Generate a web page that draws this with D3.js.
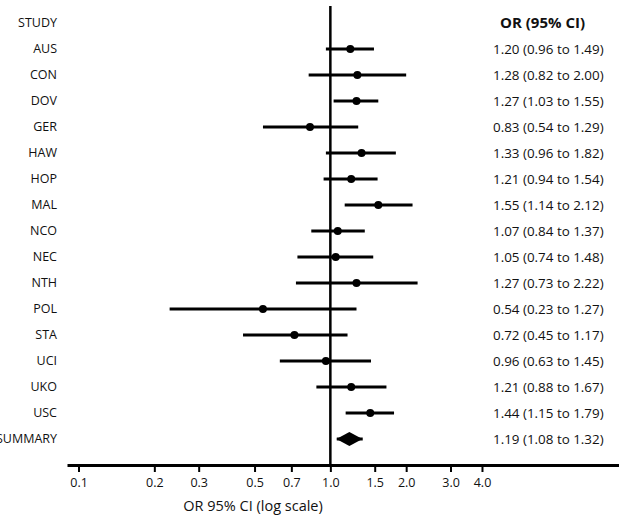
<!DOCTYPE html>
<html>
<head>
<meta charset="utf-8">
<script src="https://cdn.jsdelivr.net/npm/d3@7"></script>
<style>
  body { margin: 0; background: #fff; }
  text { font-family: "Open Sans", sans-serif; fill: #111; }
</style>
</head>
<body>
<div id="chart"></div>
<script>
// study data
var studies = ["AUS","CON","DOV","GER","HAW","HOP","MAL","NCO","NEC","NTH","POL","STA","UCI","UKO","USC"];
var or      = [1.20, 1.28, 1.27, 0.83, 1.33, 1.21, 1.55, 1.07, 1.05, 1.27, 0.54, 0.72, 0.96, 1.21, 1.44];
var lower   = [0.96, 0.82, 1.03, 0.54, 0.96, 0.94, 1.14, 0.84, 0.74, 0.73, 0.23, 0.45, 0.63, 0.88, 1.15];
var upper   = [1.49, 2.00, 1.55, 1.29, 1.82, 1.54, 2.12, 1.37, 1.48, 2.22, 1.27, 1.17, 1.45, 1.67, 1.79];
var summary = {name: "SUMMARY", or: 1.19, lower: 1.08, upper: 1.32};
var tickVals = [0.1, 0.2, 0.3, 0.5, 0.7, 1.0, 1.5, 2.0, 3.0, 4.0];

var w = 619, h = 517;

var data = studies.map(function (s, i) {
    return {name: s, or: or[i], lower: lower[i], upper: upper[i]};
});

var fmt = d3.format(".2f");
function ciText(d) {
    return fmt(d.or) + " (" + fmt(d.lower) + " to " + fmt(d.upper) + ")";
}

var svg = d3.select("#chart").append("svg")
    .attr("width", w)
    .attr("height", h);

// scales
var x = d3.scaleLog().domain([0.09, 14]).range([67, 619]);
var rows = ["STUDY"].concat(studies).concat(["SUMMARY"]);
var y = d3.scalePoint().domain(rows).range([23, 439]);
var axisY = 465;

// reference line at OR = 1
svg.append("line")
    .attr("x1", x(1)).attr("x2", x(1))
    .attr("y1", 6).attr("y2", axisY)
    .attr("stroke", "#000")
    .attr("stroke-width", 2.5);

// x axis
var axis = svg.append("g")
    .attr("transform", "translate(0," + axisY + ")")
    .call(d3.axisBottom(x)
        .tickValues(tickVals)
        .tickFormat(d3.format(".1f"))
        .tickSize(7)
        .tickSizeOuter(0)
        .tickPadding(6));
axis.select(".domain").attr("stroke", "#000").attr("stroke-width", 3);
axis.selectAll(".tick line").attr("stroke", "#000").attr("stroke-width", 2);
axis.selectAll(".tick text")
    .style("font-family", "Open Sans, sans-serif")
    .style("font-size", "12.5px")
    .attr("fill", "#111");

svg.append("text")
    .attr("x", 253)
    .attr("y", 511)
    .attr("text-anchor", "middle")
    .style("font-size", "14.5px")
    .text("OR 95% CI (log scale)");

// headers
svg.append("text")
    .attr("x", 57).attr("y", y("STUDY")).attr("dy", "0.35em")
    .attr("text-anchor", "end")
    .style("font-size", "12.5px")
    .text("STUDY");
svg.append("text")
    .attr("x", 500).attr("y", y("STUDY")).attr("dy", "0.35em")
    .style("font-size", "15px")
    .style("font-weight", "bold")
    .text("OR (95% CI)");

// study rows
var row = svg.selectAll(".study")
    .data(data)
    .enter().append("g")
    .attr("class", "study");

row.append("line")
    .attr("x1", function (d) { return x(d.lower); })
    .attr("x2", function (d) { return x(d.upper); })
    .attr("y1", function (d) { return y(d.name); })
    .attr("y2", function (d) { return y(d.name); })
    .attr("stroke", "#000")
    .attr("stroke-width", 3);

row.append("circle")
    .attr("cx", function (d) { return x(d.or); })
    .attr("cy", function (d) { return y(d.name); })
    .attr("r", 4)
    .attr("fill", "#000");

row.append("text")
    .attr("x", 57)
    .attr("y", function (d) { return y(d.name); })
    .attr("dy", "0.35em")
    .attr("text-anchor", "end")
    .style("font-size", "12.5px")
    .text(function (d) { return d.name; });

row.append("text")
    .attr("x", 493)
    .attr("y", function (d) { return y(d.name); })
    .attr("dy", "0.35em")
    .style("font-size", "13.4px")
    .text(ciText);

// summary row
var sy = y(summary.name);
svg.append("line")
    .attr("x1", x(summary.lower) - 2).attr("x2", x(summary.upper) + 2)
    .attr("y1", sy).attr("y2", sy)
    .attr("stroke", "#000")
    .attr("stroke-width", 3);
var sx = x(summary.or);
svg.append("path")
    .attr("d", "M" + (sx - 13) + "," + sy + "L" + sx + "," + (sy - 7) +
               "L" + (sx + 13) + "," + sy + "L" + sx + "," + (sy + 7) + "Z")
    .attr("fill", "#000");
svg.append("text")
    .attr("x", 57).attr("y", sy).attr("dy", "0.35em")
    .attr("text-anchor", "end")
    .style("font-size", "12.5px")
    .text(summary.name);
svg.append("text")
    .attr("x", 493).attr("y", sy).attr("dy", "0.35em")
    .style("font-size", "13.4px")
    .text(ciText(summary));
</script>
</body>
</html>
